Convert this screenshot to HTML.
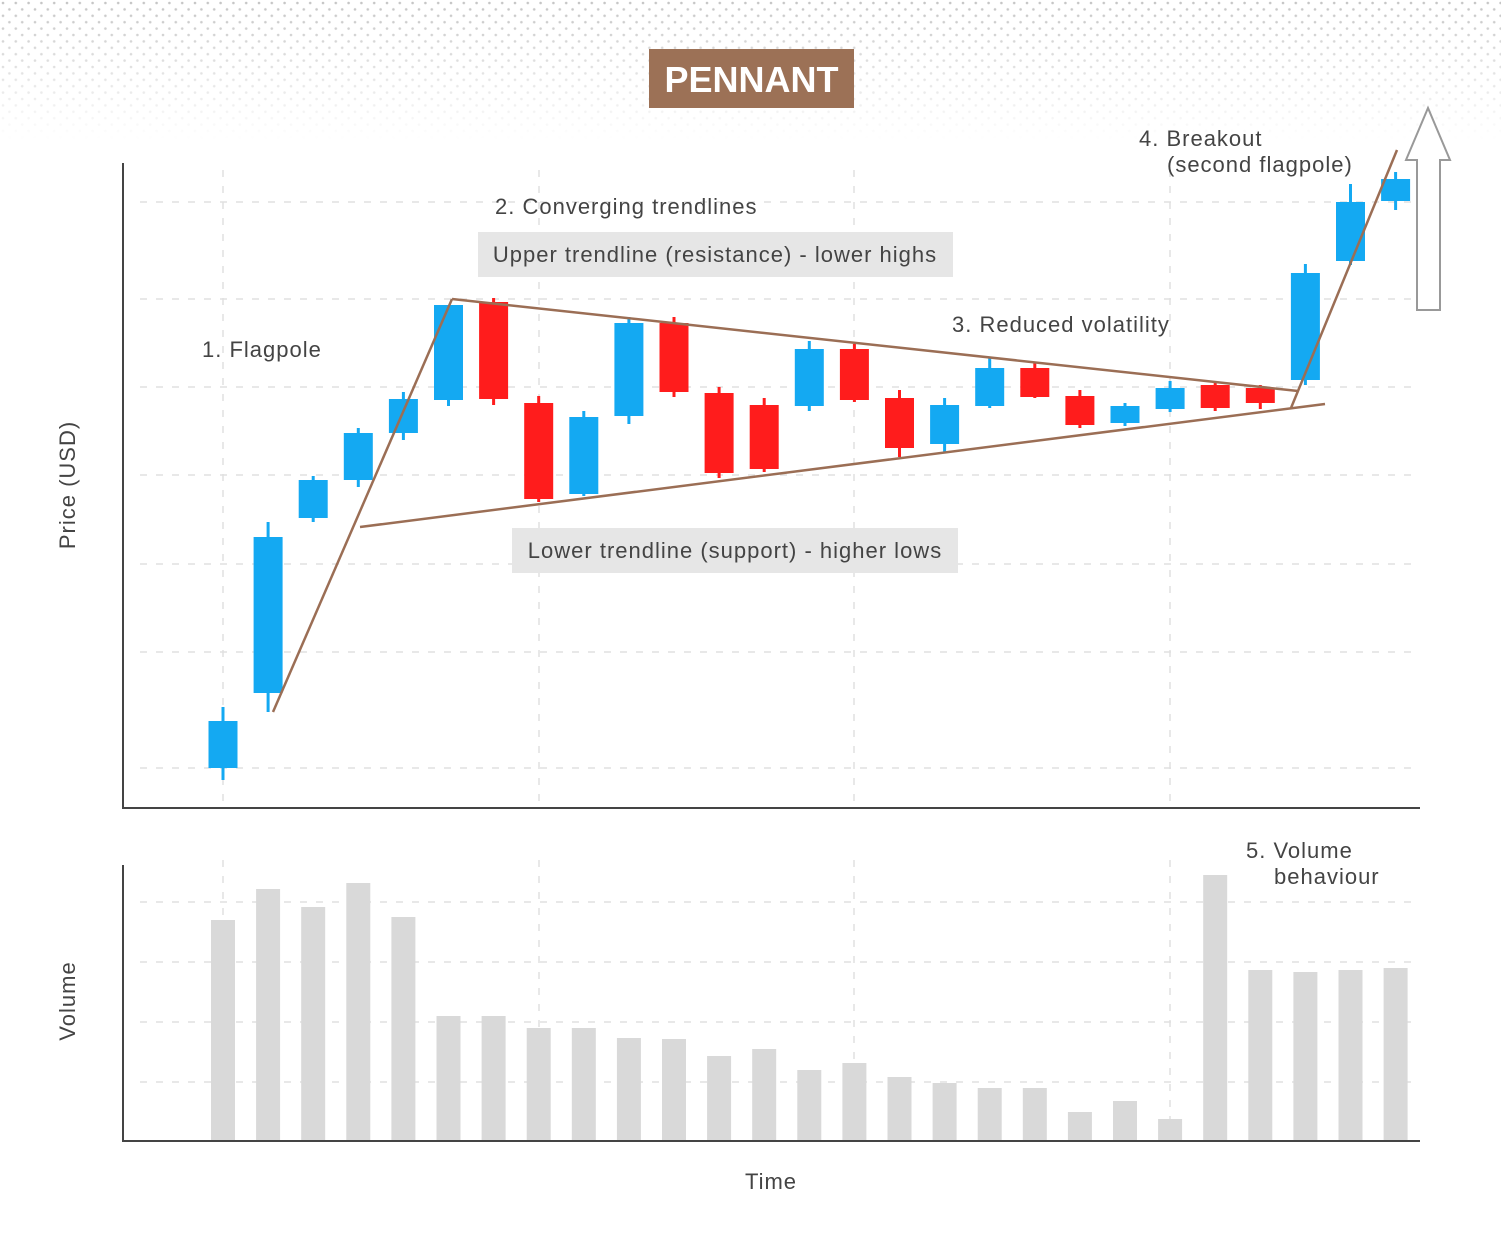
<!DOCTYPE html>
<html><head><meta charset="utf-8"><style>
html,body{margin:0;padding:0;background:#fff;}
body{width:1501px;height:1244px;overflow:hidden;font-family:"Liberation Sans",sans-serif;}
text{font-family:"Liberation Sans",sans-serif;}
</style></head><body>
<svg id="chart" width="1501" height="1244" viewBox="0 0 1501 1244" xmlns="http://www.w3.org/2000/svg">
<defs>
<pattern id="dots" width="12.8" height="12.8" patternUnits="userSpaceOnUse">
<circle cx="3" cy="3" r="1.3" fill="#c4c4c4"/><circle cx="9.4" cy="9.4" r="1.3" fill="#c4c4c4"/>
</pattern>
<linearGradient id="fade" x1="0" y1="0" x2="0" y2="1">
<stop offset="0" stop-color="#fff" stop-opacity="1"/><stop offset="1" stop-color="#fff" stop-opacity="0"/>
</linearGradient>
<mask id="fm"><rect x="0" y="0" width="1501" height="140" fill="url(#fade)"/></mask>
</defs>
<rect x="0" y="0" width="1501" height="140" fill="url(#dots)" mask="url(#fm)"/>
<g>
<rect x="649" y="49" width="205" height="59" fill="#9c7156"/>
<text x="751.5" y="92" text-anchor="middle" font-size="36" font-weight="bold" fill="#fff">PENNANT</text>
</g>
<g id="grid"></g>
<g id="vol"></g>
<g id="candles"></g>
<g stroke="#444" stroke-width="2" fill="none">
<path d="M123 163 V808 H1420"/>
<path d="M123 865 V1141 H1420"/>
</g>
<g stroke="#9b6e55" stroke-width="2.5" fill="none">
<line x1="273" y1="712" x2="452" y2="299"/>
<line x1="452" y1="299" x2="1298" y2="391"/>
<line x1="360" y1="527" x2="1325" y2="404"/>
<line x1="1291" y1="408" x2="1397" y2="150"/>
</g>
<polygon points="1417,310 1440,310 1440,160 1450,160 1428,108 1406,160 1417,160" fill="#fff" stroke="#999" stroke-width="2"/>
<g fill="#444" font-size="22" letter-spacing="1">
<text x="202" y="357">1. Flagpole</text>
<text x="495" y="214">2. Converging trendlines</text>
<rect x="478" y="232" width="475" height="45" fill="#e6e6e6"/>
<text x="715" y="262" text-anchor="middle">Upper trendline (resistance) - lower highs</text>
<rect x="512" y="528" width="446" height="45" fill="#e6e6e6"/>
<text x="735" y="558" text-anchor="middle">Lower trendline (support) - higher lows</text>
<text x="952" y="332">3. Reduced volatility</text>
<text x="1139" y="146">4. Breakout</text>
<text x="1167" y="172">(second flagpole)</text>
<text x="1246" y="858">5. Volume</text>
<text x="1274" y="884">behaviour</text>
<text transform="translate(75,485) rotate(-90)" text-anchor="middle">Price (USD)</text>
<text transform="translate(75,1001) rotate(-90)" text-anchor="middle">Volume</text>
<text x="771" y="1189" text-anchor="middle">Time</text>
</g>
</svg>
<script>
// Price data (price units = pixels above axis baseline / 10)
const opens  = [4.0,11.5,29.0,32.8,37.5,40.8,50.6,40.5,31.4,39.2,48.5,41.5,40.3,40.2,45.9,41.0,36.4,40.2,44.0,41.2,38.5,39.9,42.3,42.0,42.8,54.7,60.7];
const closes = [8.7,27.1,32.8,37.5,40.9,50.3,40.9,30.9,39.1,48.5,41.6,33.5,33.9,45.9,40.8,36.0,40.3,44.0,41.1,38.3,40.2,42.0,40.0,40.5,53.5,60.6,62.9];
const highs  = [10.1,28.6,33.2,38.0,41.6,50.3,51.0,41.2,39.7,49.1,49.1,42.1,41.0,46.7,46.4,41.8,41.0,45.0,44.6,41.8,40.5,42.7,42.6,42.3,54.4,62.4,63.6];
const lows   = [2.8,9.6,28.6,32.1,36.8,40.2,40.3,30.6,31.2,38.4,41.1,33.0,33.6,39.7,40.6,35.1,35.5,40.0,41.0,38.0,38.2,39.6,39.7,39.9,42.3,54.3,59.8];
const volumes = [221,252,234,258,224,125,125,113,113,103,102,85,92,71,78,64,58,53,53,29,40,22,266,171,169,171,173];
const priceGrid = [4.0,15.6,24.4,33.3,42.1,50.9,60.6];
const volGrid = [239,179,119,59];
const xGrid = [0,7,14,21];

const svgNS="http://www.w3.org/2000/svg";
const xOf = i => 223 + i*45.1;
const yP = p => 808 - p*10;
const yV = v => 1141 - v;
function mk(tag,attrs,parent){const e=document.createElementNS(svgNS,tag);for(const k in attrs)e.setAttribute(k,attrs[k]);parent.appendChild(e);return e;}
const grid=document.getElementById('grid'), vol=document.getElementById('vol'), cg=document.getElementById('candles');
const gs={stroke:'#e0e0e0','stroke-width':1.5,'stroke-dasharray':'7 9'};
priceGrid.forEach(p=>{const l=mk('line',Object.assign({x1:140,x2:1420,y1:yP(p),y2:yP(p)},gs),grid);

});
volGrid.forEach(v=>{const l=mk('line',Object.assign({x1:140,x2:1420,y1:yV(v),y2:yV(v)},gs),grid);

});
xGrid.forEach(i=>{const x=Math.round(xOf(i));
const a=mk('line',Object.assign({x1:x,x2:x,y1:170,y2:808},gs),grid);


const b=mk('line',Object.assign({x1:x,x2:x,y1:860,y2:1141},gs),grid);

});
volumes.forEach((v,i)=>{const r=mk('rect',{x:xOf(i)-12,y:yV(v),width:24,height:v,fill:'#d9d9d9'},vol);

});
opens.forEach((o,i)=>{const c=closes[i],x=xOf(i),col=c>=o?'#14a9f2':'#ff1c1c';
const g=mk('g',{},cg);


mk('line',{x1:x,x2:x,y1:yP(highs[i]),y2:yP(lows[i]),stroke:col,'stroke-width':3},g);
const top=yP(Math.max(o,c)),bot=yP(Math.min(o,c));
mk('rect',{x:x-14.5,y:top,width:29,height:Math.max(bot-top,2),fill:col},g);});
</script>
</body></html>
